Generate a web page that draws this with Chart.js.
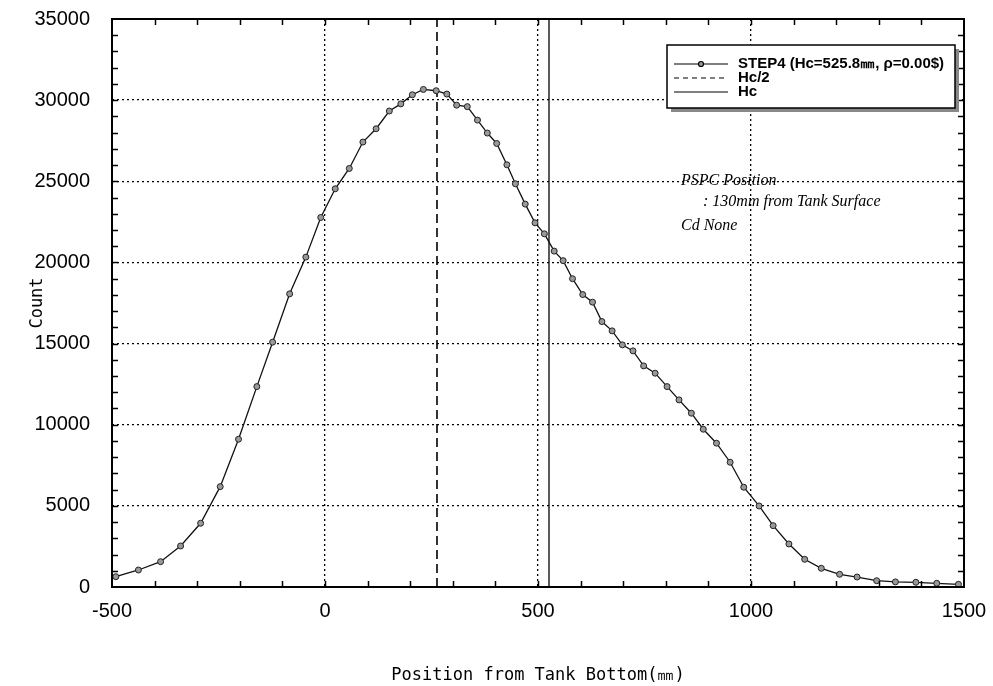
<!DOCTYPE html>
<html>
<head>
<meta charset="utf-8">
<script src="https://cdn.jsdelivr.net/npm/chart.js@4.4.1/dist/chart.umd.min.js"></script>
<style>
  html, body { margin: 0; padding: 0; background: #fff; }
  #wrap { width: 993px; height: 686px; }
</style>
</head>
<body>
<div id="wrap"><canvas id="grafico" width="993" height="686"></canvas></div>
<script>
// Datos
const posiciones = [-491, -438, -386, -339, -292, -246, -203, -160, -123, -83, -45, -10, 24,
    57, 89, 120, 151, 178, 205, 231, 261, 286, 309, 334, 358, 381, 403, 427, 447, 470,
    493, 515, 538, 559, 581, 605, 628, 650, 674, 698, 723, 748, 775, 803, 831, 860, 888,
    919, 951, 983, 1019, 1052, 1089, 1126, 1165, 1208, 1249, 1295, 1339, 1387, 1436, 1487];
const cuentas = [635, 1048, 1560, 2527, 3927, 6184, 9105, 12349, 15086, 18064, 20327, 22770, 24538,
    25789, 27417, 28237, 29330, 29770, 30333, 30660, 30580, 30375, 29690, 29600, 28770, 27972, 27330, 26017, 24846, 23594,
    22441, 21763, 20697, 20110, 18998, 18020, 17552, 16357, 15783, 14920, 14550, 13625, 13175, 12349, 11529, 10709, 9723,
    8860, 7688, 6147, 4994, 3780, 2651, 1707, 1153, 783, 615, 388, 315, 290, 228, 166];

const hc = 525.8;
const rangoX = [-500, 1500];
const rangoY = [0, 35000];

const etiquetasLeyenda = ['STEP4 (Hc=525.8㎜, ρ=0.00$)', 'Hc/2', 'Hc'];
const notas = ['PSPC Position', ': 130mm from Tank Surface', 'Cd None'];

const puntos = posiciones.map((x, i) => ({ x: x, y: cuentas[i] }));

// Marco, marcas menores, leyenda y notas
const plugMarco = {
    id: 'marco',
    afterDraw(chart) {
        const ctx = chart.ctx;
        const a = chart.chartArea;
        const sx = chart.scales.x, sy = chart.scales.y;
        ctx.save();
        ctx.strokeStyle = '#000';
        ctx.lineWidth = 2;
        ctx.strokeRect(a.left, a.top, a.right - a.left, a.bottom - a.top);

        // marcas menores hacia adentro
        ctx.lineWidth = 1.5;
        ctx.beginPath();
        for (let v = rangoX[0] + 100; v < rangoX[1]; v += 100) {
            const px = Math.round(sx.getPixelForValue(v)) + 0.5;
            ctx.moveTo(px, a.bottom); ctx.lineTo(px, a.bottom - 6);
            ctx.moveTo(px, a.top); ctx.lineTo(px, a.top + 6);
        }
        for (let v = rangoY[0] + 1000; v < rangoY[1]; v += 1000) {
            const py = Math.round(sy.getPixelForValue(v)) + 0.5;
            ctx.moveTo(a.left, py); ctx.lineTo(a.left + 6, py);
            ctx.moveTo(a.right, py); ctx.lineTo(a.right - 6, py);
        }
        ctx.stroke();

        // leyenda
        const lx = 667, ly = 45, lw = 288, lh = 63;
        ctx.fillStyle = '#888';
        ctx.fillRect(lx + 4, ly + 4, lw, lh);
        ctx.fillStyle = '#fff';
        ctx.fillRect(lx, ly, lw, lh);
        ctx.strokeStyle = '#000';
        ctx.lineWidth = 1.5;
        ctx.strokeRect(lx, ly, lw, lh);

        const filas = [64, 78, 92];
        ctx.lineWidth = 1.2;
        // fila 1
        ctx.beginPath(); ctx.moveTo(674, filas[0]); ctx.lineTo(728, filas[0]); ctx.stroke();
        ctx.beginPath(); ctx.arc(701, filas[0], 2.5, 0, Math.PI * 2);
        ctx.fillStyle = '#999'; ctx.fill(); ctx.stroke();
        // fila 2
        ctx.setLineDash([5, 4]);
        ctx.beginPath(); ctx.moveTo(674, filas[1]); ctx.lineTo(728, filas[1]); ctx.stroke();
        ctx.setLineDash([]);
        // fila 3
        ctx.lineWidth = 1;
        ctx.beginPath(); ctx.moveTo(674, filas[2]); ctx.lineTo(728, filas[2]); ctx.stroke();

        ctx.fillStyle = '#000';
        ctx.font = 'bold 15px "Liberation Sans"';
        ctx.textBaseline = 'middle';
        ctx.textAlign = 'left';
        etiquetasLeyenda.forEach((t, i) => ctx.fillText(t, 738, filas[i]));

        // notas
        ctx.font = 'italic 16px "Liberation Serif"';
        ctx.fillText(notas[0], 681, 181);
        ctx.fillText(notas[1], 703, 202);
        ctx.fillText(notas[2], 681, 226);
        ctx.restore();
    }
};

new Chart(document.getElementById('grafico'), {
    type: 'scatter',
    data: {
        datasets: [
            {
                label: etiquetasLeyenda[0],
                data: puntos,
                showLine: true,
                borderColor: '#111',
                borderWidth: 1.3,
                pointRadius: 3,
                pointBackgroundColor: '#999',
                pointBorderColor: '#222',
                pointBorderWidth: 1,
                tension: 0
            },
            {
                label: etiquetasLeyenda[1],
                data: [{ x: hc / 2, y: rangoY[0] }, { x: hc / 2, y: rangoY[1] }],
                showLine: true,
                borderColor: '#000',
                borderWidth: 1.6,
                borderDash: [9, 5],
                pointRadius: 0
            },
            {
                label: etiquetasLeyenda[2],
                data: [{ x: hc, y: rangoY[0] }, { x: hc, y: rangoY[1] }],
                showLine: true,
                borderColor: '#000',
                borderWidth: 1.3,
                pointRadius: 0
            }
        ]
    },
    options: {
        responsive: false,
        animation: false,
        layout: { padding: { left: 0, top: 19, right: 29, bottom: 0 } },
        plugins: {
            legend: { display: false },
            tooltip: { enabled: false }
        },
        scales: {
            x: {
                type: 'linear',
                min: rangoX[0],
                max: rangoX[1],
                afterFit: (s) => { s.height = 99; s.paddingLeft = 0; s.paddingRight = 0; },
                ticks: {
                    stepSize: 500,
                    color: '#000',
                    padding: 12,
                    maxRotation: 0,
                    callback: (v) => String(v),
                    font: { family: 'Liberation Sans', size: 20 }
                },
                grid: { color: '#000', lineWidth: 1.3, drawTicks: false },
                border: { display: false, dash: [2, 3] },
                title: {
                    display: true,
                    text: 'Position from Tank Bottom(㎜)',
                    color: '#000',
                    font: { family: 'DejaVu Sans Mono', size: 17 },
                    padding: { top: 0, bottom: 0 }
                }
            },
            y: {
                min: rangoY[0],
                max: rangoY[1],
                afterFit: (s) => { s.width = 112; s.paddingTop = 0; s.paddingBottom = 0; },
                ticks: {
                    stepSize: 5000,
                    color: '#000',
                    padding: 22,
                    callback: (v) => String(v),
                    font: { family: 'Liberation Sans', size: 20 }
                },
                grid: { color: '#000', lineWidth: 1.3, drawTicks: false },
                border: { display: false, dash: [2, 3] },
                title: {
                    display: true,
                    text: 'Count',
                    color: '#000',
                    font: { family: 'DejaVu Sans Mono', size: 17 },
                    padding: { top: 27, bottom: 0 }
                }
            }
        }
    },
    plugins: [plugMarco]
});
</script>
</body>
</html>
